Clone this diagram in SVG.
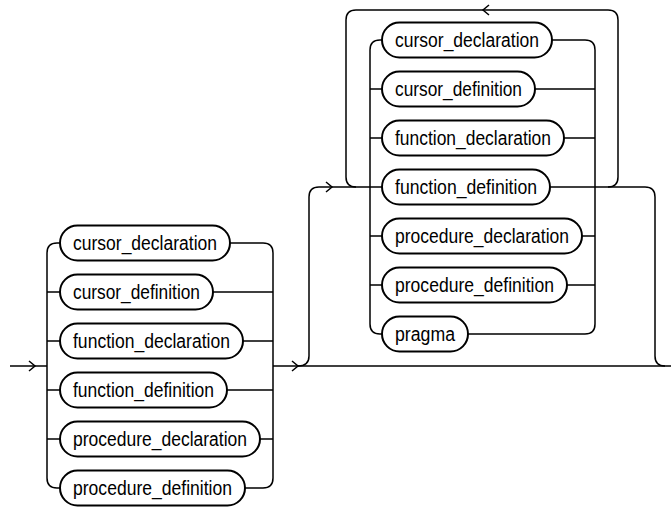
<svg xmlns="http://www.w3.org/2000/svg" width="671" height="508" viewBox="0 0 671 508">
<style>
.n rect{fill:#fff;stroke:#000;stroke-width:2}
.n text{font-family:"Liberation Sans",Arial,sans-serif;font-size:20px;fill:#000}
.c path{fill:none;stroke:#000;stroke-width:1.5}
</style>
<rect width="671" height="508" fill="#fff"/>
<g class="c" id="connectors">
<path d="M10,366 H47"/>
<path d="M29,361 L35,366 L29,371"/>
<path d="M60,243 H57 Q47,243 47,253 V478 Q47,488 57,488 H60"/>
<path d="M47,292 H60 M47,341 H60 M47,390 H60 M47,439 H60"/>
<path d="M230,243 H263 Q273,243 273,253 V478 Q273,488 263,488 H245"/>
<path d="M212,292 H273 M243,341 H273 M227,390 H273 M260,439 H273"/>
<path d="M273,366 H671"/>
<path d="M292,361 L298,366 L292,371"/>
<path d="M298,366 Q309,366 309,356 V197 Q309,187 319,187 H382"/>
<path d="M326,182 L332,187 L326,192"/>
<path d="M550,187 H645 Q655,187 655,197 V356 Q655,366 665,366"/>
<path d="M356,187 Q346,187 346,177 V20 Q346,10 356,10 H608 Q618,10 618,20 V177 Q618,187 608,187"/>
<path d="M489,5 L483,10 L489,15"/>
<path d="M382,40 H380 Q370,40 370,50 V324 Q370,334 380,334 H382"/>
<path d="M370,89 H382 M370,138 H382 M370,236 H382 M370,285 H382"/>
<path d="M552,40 H585 Q595,40 595,50 V324 Q595,334 585,334 H468"/>
<path d="M535,89 H595 M564,138 H595 M582,236 H595 M567,285 H595"/>
</g>
<g class="n" id="l_cursor_declaration"><rect x="60" y="225.5" width="170" height="35" rx="17.5"/><text x="73" y="250" textLength="144" lengthAdjust="spacingAndGlyphs">cursor_declaration</text></g>
<g class="n" id="l_cursor_definition"><rect x="60" y="274.5" width="153" height="35" rx="17.5"/><text x="73" y="299" textLength="127" lengthAdjust="spacingAndGlyphs">cursor_definition</text></g>
<g class="n" id="l_function_declaration"><rect x="60" y="323.5" width="183" height="35" rx="17.5"/><text x="73" y="348" textLength="157" lengthAdjust="spacingAndGlyphs">function_declaration</text></g>
<g class="n" id="l_function_definition"><rect x="60" y="372.5" width="167" height="35" rx="17.5"/><text x="73" y="397" textLength="141" lengthAdjust="spacingAndGlyphs">function_definition</text></g>
<g class="n" id="l_procedure_declaration"><rect x="60" y="421.5" width="200" height="35" rx="17.5"/><text x="73" y="446" textLength="174" lengthAdjust="spacingAndGlyphs">procedure_declaration</text></g>
<g class="n" id="l_procedure_definition"><rect x="60" y="470.5" width="185" height="35" rx="17.5"/><text x="73" y="495" textLength="159" lengthAdjust="spacingAndGlyphs">procedure_definition</text></g>
<g class="n" id="r_cursor_declaration"><rect x="382" y="22.5" width="170" height="35" rx="17.5"/><text x="395" y="47" textLength="144" lengthAdjust="spacingAndGlyphs">cursor_declaration</text></g>
<g class="n" id="r_cursor_definition"><rect x="382" y="71.5" width="153" height="35" rx="17.5"/><text x="395" y="96" textLength="127" lengthAdjust="spacingAndGlyphs">cursor_definition</text></g>
<g class="n" id="r_function_declaration"><rect x="382" y="120.5" width="182" height="35" rx="17.5"/><text x="395" y="145" textLength="156" lengthAdjust="spacingAndGlyphs">function_declaration</text></g>
<g class="n" id="r_function_definition"><rect x="382" y="169.5" width="168" height="35" rx="17.5"/><text x="395" y="194" textLength="142" lengthAdjust="spacingAndGlyphs">function_definition</text></g>
<g class="n" id="r_procedure_declaration"><rect x="382" y="218.5" width="200" height="35" rx="17.5"/><text x="395" y="243" textLength="174" lengthAdjust="spacingAndGlyphs">procedure_declaration</text></g>
<g class="n" id="r_procedure_definition"><rect x="382" y="267.5" width="185" height="35" rx="17.5"/><text x="395" y="292" textLength="159" lengthAdjust="spacingAndGlyphs">procedure_definition</text></g>
<g class="n" id="r_pragma"><rect x="382" y="316.5" width="86" height="35" rx="17.5"/><text x="395" y="341" textLength="60" lengthAdjust="spacingAndGlyphs">pragma</text></g>
</svg>
